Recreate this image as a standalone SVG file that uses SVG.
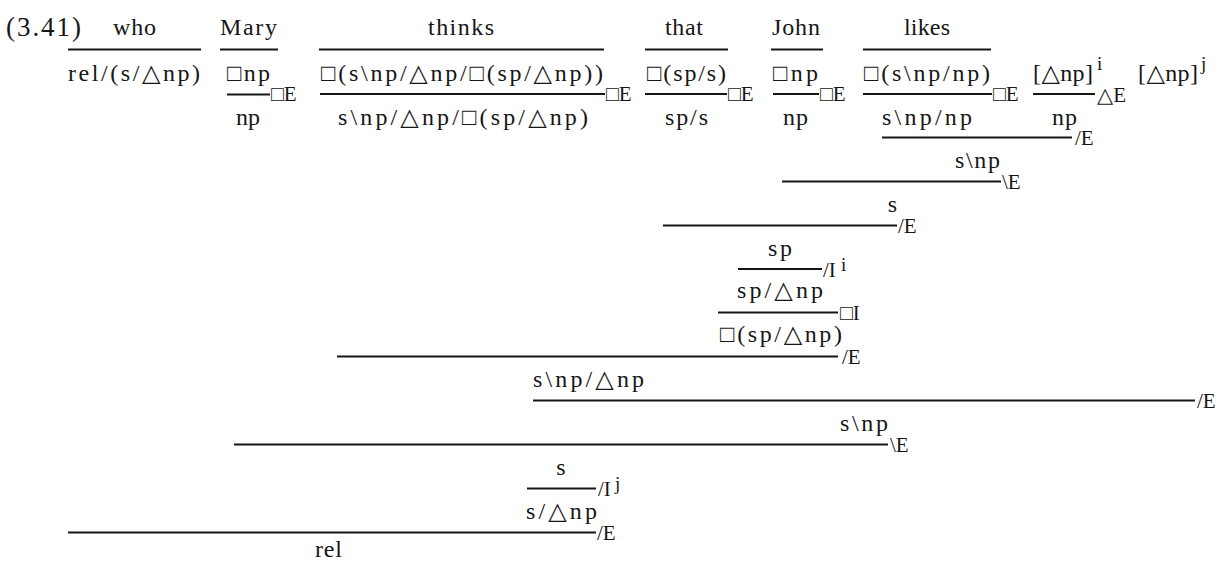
<svg xmlns="http://www.w3.org/2000/svg" width="1227" height="562" viewBox="0 0 1227 562">
<style>
text{font-family:"Liberation Serif","Times New Roman","DejaVu Serif",serif;fill:#161616}
.m{font-size:24px}
.r{font-size:21px}
.s{font-size:19px}
.n{font-size:27px}
.c{text-anchor:middle}
line{stroke:#161616;stroke-width:2}
</style>
<rect width="1227" height="562" fill="#fff"/>
<text class="n" x="6" y="36" textLength="75">(3.41)</text>
<g id="words">
<text class="m" x="113" y="35" textLength="43">who</text>
<text class="m" x="220" y="35" textLength="57">Mary</text>
<text class="m" x="428" y="35" textLength="66">thinks</text>
<text class="m" x="665" y="35" textLength="38">that</text>
<text class="m" x="772" y="35" textLength="48">John</text>
<text class="m" x="904" y="35" textLength="46">likes</text>
</g>
<g id="lexical">
<text class="m" x="68" y="81" textLength="132">rel/(s/△np)</text>
<text class="m" x="227" y="81" textLength="43">□np</text>
<text class="m" x="321" y="81" textLength="282">□(s\np/△np/□(sp/△np))</text>
<text class="m" x="647" y="81" textLength="79">□(sp/s)</text>
<text class="m" x="773" y="81" textLength="45">□np</text>
<text class="m" x="864" y="81" textLength="126">□(s\np/np)</text>
<g id="hyp-i"><text class="m" x="1033" y="81" textLength="60">[△np]</text><text class="s" x="1097" y="70">i</text></g>
<g id="hyp-j"><text class="m" x="1138" y="81" textLength="60">[△np]</text><text class="s" x="1201" y="70">j</text></g>
</g>
<g id="row3">
<text class="m" x="236" y="125" textLength="24">np</text>
<text class="m" x="338" y="125" textLength="250">s\np/△np/□(sp/△np)</text>
<text class="m" x="665" y="125" textLength="43">sp/s</text>
<text class="m" x="783" y="125" textLength="25">np</text>
<text class="m" x="882" y="125" textLength="90">s\np/np</text>
<text class="m" x="1052" y="125" textLength="25">np</text>
</g>
<g id="n-snp1"><text class="m" x="955" y="168" textLength="45">s\np</text></g>
<g id="n-s1"><text class="m c" x="892.5" y="212">s</text></g>
<g id="n-sp"><text class="m" x="768" y="256" textLength="24">sp</text></g>
<g id="n-spdnp"><text class="m" x="737" y="298" textLength="86">sp/△np</text></g>
<g id="n-bspdnp"><text class="m" x="720" y="342" textLength="122">□(sp/△np)</text></g>
<g id="n-snpdnp"><text class="m" x="533" y="387" textLength="111">s\np/△np</text></g>
<g id="n-snp2"><text class="m" x="840" y="431" textLength="48">s\np</text></g>
<g id="n-s2"><text class="m c" x="561" y="475">s</text></g>
<g id="n-sdnp"><text class="m" x="526" y="519" textLength="71">s/△np</text></g>
<g id="n-rel"><text class="m" x="315" y="557" textLength="27">rel</text></g>
<g id="connectors">
<line x1="68" y1="49.5" x2="201" y2="49.5"/>
<line x1="220" y1="49.5" x2="278" y2="49.5"/>
<line x1="319" y1="49.5" x2="604" y2="49.5"/>
<line x1="645" y1="49.5" x2="728" y2="49.5"/>
<line x1="771" y1="49.5" x2="823" y2="49.5"/>
<line x1="863" y1="49.5" x2="991" y2="49.5"/>
<line x1="227" y1="94.5" x2="270" y2="94.5"/><text class="r" x="271" y="101">□E</text>
<line x1="320" y1="94" x2="605" y2="94"/><text class="r" x="606" y="101">□E</text>
<line x1="645" y1="94" x2="727" y2="94"/><text class="r" x="728" y="101">□E</text>
<line x1="773" y1="94" x2="819" y2="94"/><text class="r" x="820" y="101">□E</text>
<line x1="863" y1="94" x2="992" y2="94"/><text class="r" x="993" y="101">□E</text>
<line x1="1033" y1="94" x2="1095" y2="94"/><text class="r" x="1097" y="102">△E</text>
<line x1="882" y1="137.5" x2="1072" y2="137.5"/><text class="r" x="1075" y="145">/E</text>
<line x1="782" y1="181.5" x2="1001" y2="181.5"/><text class="r" x="1002" y="189">\E</text>
<line x1="663" y1="225.5" x2="897" y2="225.5"/><text class="r" x="898" y="233">/E</text>
<line x1="738" y1="269" x2="822" y2="269"/><text class="r" x="823" y="277">/I</text><text class="s" x="841" y="271">i</text>
<line x1="718" y1="312.5" x2="838" y2="312.5"/><text class="r" x="840" y="320">□I</text>
<line x1="337" y1="356.5" x2="838" y2="356.5"/><text class="r" x="842" y="364">/E</text>
<line x1="533" y1="400.5" x2="1195" y2="400.5"/><text class="r" x="1197" y="408">/E</text>
<line x1="234" y1="444.5" x2="888" y2="444.5"/><text class="r" x="890" y="452">\E</text>
<line x1="527" y1="488.5" x2="596" y2="488.5"/><text class="r" x="598" y="496">/I</text><text class="s" x="615" y="490">j</text>
<line x1="68" y1="532.5" x2="596" y2="532.5"/><text class="r" x="597" y="540">/E</text>
</g>
</svg>
